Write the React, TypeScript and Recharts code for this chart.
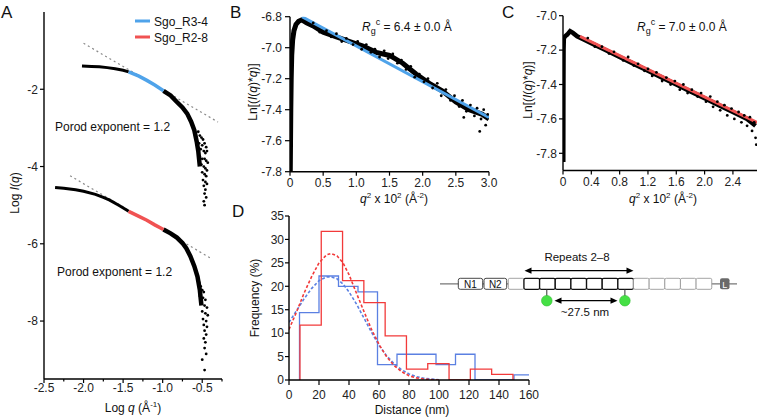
import React from "react";
import { ComposedChart, Line, Scatter, XAxis, YAxis } from "recharts";

const FONT = "'Liberation Sans', Arial, Helvetica, sans-serif";
const FIT_BLUE = "#4FA3EA";
const FIT_RED = "#F05252";
const H_BLUE = "#5B80E2";
const H_RED = "#F23A3A";
const GUIDE = "#8a8a8a";

const pts = (a: number[][]) => a.map(([x, y]) => ({ x, y }));

// ---- A: log-log curves ----
const aUpperLow = pts([[-2.02, -1.4], [-1.9, -1.41], [-1.8, -1.42], [-1.7, -1.44], [-1.6, -1.47], [-1.5, -1.51], [-1.43, -1.55]]);
const aUpperFit = pts([[-1.43, -1.55], [-1.3, -1.66], [-1.2, -1.77], [-1.1, -1.89], [-0.99, -2.04]]);
const aUpperHigh = pts([[-0.99, -2.04], [-0.9, -2.16], [-0.82, -2.33], [-0.75, -2.47], [-0.69, -2.63], [-0.64, -2.84], [-0.6, -3.06], [-0.57, -3.35], [-0.55, -3.6], [-0.53, -4.0]]);
const aUpperTail = pts([
  [-0.55, -3.1], [-0.53, -3.2], [-0.51, -3.25], [-0.49, -3.3], [-0.54, -3.4], [-0.5, -3.45], [-0.47, -3.4], [-0.45, -3.5],
  [-0.52, -3.55], [-0.48, -3.6], [-0.46, -3.65], [-0.44, -3.6], [-0.53, -3.75], [-0.5, -3.8], [-0.47, -3.8], [-0.45, -3.85],
  [-0.43, -3.9], [-0.51, -3.95], [-0.48, -4.0], [-0.46, -4.05], [-0.44, -4.1], [-0.5, -4.15], [-0.47, -4.2], [-0.45, -4.25],
  [-0.49, -4.35], [-0.46, -4.4], [-0.44, -4.45], [-0.48, -4.5], [-0.46, -4.6], [-0.47, -4.7], [-0.45, -4.8], [-0.48, -4.9], [-0.47, -5.0],
]);
const aLowerLow = pts([[-2.36, -4.54], [-2.25, -4.56], [-2.1, -4.6], [-2.0, -4.64], [-1.85, -4.72], [-1.75, -4.8], [-1.67, -4.87], [-1.55, -5.01], [-1.43, -5.16]]);
const aLowerFit = pts([[-1.43, -5.16], [-1.3, -5.29], [-1.2, -5.39], [-1.1, -5.51], [-0.99, -5.63]]);
const aLowerHigh = pts([[-0.99, -5.63], [-0.9, -5.73], [-0.82, -5.84], [-0.75, -5.98], [-0.7, -6.12], [-0.65, -6.32], [-0.6, -6.58], [-0.56, -6.85], [-0.53, -7.2], [-0.51, -7.6]]);
const aLowerTail = pts([
  [-0.54, -7.0], [-0.52, -7.1], [-0.5, -7.2], [-0.48, -7.25], [-0.53, -7.35], [-0.49, -7.4], [-0.46, -7.45], [-0.51, -7.55],
  [-0.47, -7.6], [-0.44, -7.65], [-0.5, -7.75], [-0.46, -7.8], [-0.43, -7.85], [-0.49, -7.95], [-0.45, -8.0], [-0.48, -8.1],
  [-0.44, -8.15], [-0.47, -8.25], [-0.45, -8.35], [-0.48, -8.45], [-0.46, -8.55], [-0.47, -8.7], [-0.45, -8.85], [-0.5, -9.0], [-0.47, -9.27],
]);
const aGuideUpper = pts([[-2.0, -0.81], [-0.3, -2.85]]);
const aGuideLower = pts([[-2.17, -4.24], [-0.37, -6.4]]);
const aXTicks = [-2.5, -2.25, -2.0, -1.75, -1.5, -1.25, -1.0, -0.75, -0.5, -0.25];
const aYTicks = [-8, -6, -4, -2];

// ---- B: Sgo_R3-4 cross-section Guinier ----
const bTrace = pts([
  [0.004, -7.8], [0.008, -7.6], [0.012, -7.4], [0.018, -7.2], [0.026, -7.05], [0.04, -6.95], [0.06, -6.89], [0.09, -6.85],
  [0.13, -6.83], [0.18, -6.82], [0.25, -6.84], [0.35, -6.86], [0.5, -6.9], [0.7, -6.93], [0.9, -6.96], [1.1, -6.99],
  [1.3, -7.03], [1.5, -7.05], [1.7, -7.1], [1.9, -7.17], [2.1, -7.23], [2.3, -7.28], [2.5, -7.35], [2.7, -7.4], [2.9, -7.43], [3.0, -7.46],
]);
const bScatter = pts([
  [0.35, -6.84], [0.45, -6.9], [0.55, -6.89], [0.62, -6.93], [0.7, -6.91], [0.78, -6.96], [0.85, -6.94], [0.95, -6.98],
  [1.02, -6.96], [1.08, -7.01], [1.15, -6.98], [1.22, -7.03], [1.28, -7.01], [1.35, -7.06], [1.42, -7.02], [1.48, -7.07],
  [1.55, -7.04], [1.62, -7.1], [1.68, -7.08], [1.75, -7.14], [1.82, -7.12], [1.88, -7.19], [1.95, -7.17], [2.02, -7.22],
  [2.08, -7.2], [2.15, -7.26], [2.22, -7.23], [2.28, -7.31], [2.35, -7.27], [2.42, -7.34], [2.48, -7.31], [2.55, -7.38],
  [2.6, -7.34], [2.66, -7.41], [2.72, -7.37], [2.78, -7.44], [2.82, -7.39], [2.88, -7.46], [2.92, -7.4], [2.95, -7.5],
  [2.98, -7.43], [2.86, -7.54], [2.62, -7.45],
]);
const bFit = pts([[0.18, -6.8], [3.0, -7.45]]);
const bXTicks = [0, 0.5, 1.0, 1.5, 2.0, 2.5, 3.0];
const bYTicks = [-7.8, -7.6, -7.4, -7.2, -7.0, -6.8];

// ---- C: Sgo_R2-8 cross-section Guinier ----
const cTrace = pts([
  [0.004, -7.85], [0.005, -7.6], [0.006, -7.4], [0.008, -7.2], [0.012, -7.13], [0.03, -7.12], [0.06, -7.11], [0.1, -7.09],
  [0.14, -7.1], [0.2, -7.12], [0.3, -7.14], [0.4, -7.16], [0.6, -7.2], [0.8, -7.24], [1.0, -7.28], [1.2, -7.32],
  [1.4, -7.36], [1.6, -7.4], [1.8, -7.44], [2.0, -7.48], [2.2, -7.52], [2.4, -7.56], [2.6, -7.6], [2.72, -7.64],
]);
const cScatter = pts([
  [0.35, -7.13], [0.45, -7.18], [0.55, -7.18], [0.65, -7.22], [0.72, -7.21], [0.85, -7.26], [0.92, -7.24], [1.0, -7.29],
  [1.06, -7.28], [1.15, -7.32], [1.2, -7.31], [1.26, -7.35], [1.32, -7.33], [1.4, -7.38], [1.46, -7.36], [1.52, -7.4],
  [1.58, -7.38], [1.65, -7.43], [1.7, -7.4], [1.76, -7.45], [1.82, -7.43], [1.9, -7.47], [1.95, -7.45], [2.02, -7.5],
  [2.08, -7.47], [2.12, -7.53], [2.18, -7.5], [2.22, -7.55], [2.28, -7.52], [2.32, -7.58], [2.38, -7.54], [2.42, -7.6],
  [2.48, -7.56], [2.52, -7.62], [2.56, -7.58], [2.6, -7.64], [2.64, -7.59], [2.67, -7.67], [2.7, -7.62], [2.72, -7.71], [2.73, -7.75],
]);
const cFit = pts([[0.24, -7.12], [2.74, -7.62]]);
const cXTicks = [0, 0.4, 0.8, 1.2, 1.6, 2.0, 2.4];
const cYTicks = [-7.8, -7.6, -7.4, -7.2, -7.0];

// ---- D: distance histograms (bin start, frequency) ----
const dBlueHist = pts([[7, 0], [7, 14.4], [20, 22.2], [33, 20.0], [46, 18.8], [59, 3.3], [72, 5.5], [85, 5.5], [98, 3.3], [111, 5.5], [124, 0], [150, 1.1], [160, 1.1]]);
const dRedHist = pts([[7.3, 0], [7.3, 11.7], [21.5, 31.7], [35.7, 21.2], [49.9, 16.5], [64.1, 9.4], [78.3, 2.3], [92.5, 3.5], [106.7, 0], [120.9, 2.3], [135.1, 1.2], [149.3, 0]]);
const dBlueFit = pts([
  [0, 12.3], [5, 14.8], [10, 17.3], [15, 19.5], [20, 21.2], [25, 22.0], [28, 22.0], [32, 21.6], [36, 20.5], [40, 18.8],
  [45, 16.2], [50, 13.2], [55, 10.2], [60, 7.4], [65, 5.2], [70, 3.5], [75, 2.2], [80, 1.3], [85, 0.7], [90, 0.35], [100, 0.05],
]);
const dRedFit = pts([
  [0, 10.8], [5, 14.5], [10, 18.5], [15, 22.0], [20, 25.0], [25, 26.7], [28, 27.0], [32, 26.5], [36, 25.0], [40, 22.5],
  [45, 18.5], [50, 14.6], [55, 10.8], [60, 7.6], [65, 5.0], [70, 3.1], [75, 1.8], [80, 0.9], [85, 0.45], [90, 0.2], [100, 0],
]);
const dXTicks = [0, 20, 40, 60, 80, 100, 120, 140, 160];
const dYTicks = [0, 5, 10, 15, 20, 25, 30, 35];

// schematic: repeat index -> highlighted
const repeats = [1, 2, 3, 4, 5, 6, 7, 8, 9, 10, 11, 12, 13];

const axisLine = { stroke: "#000", strokeWidth: 1.4 };
const tickLine = { stroke: "#000", strokeWidth: 1.2 };
const tickStyle = { fill: "#222", fontSize: 12, fontFamily: FONT };
const fmt1 = (v: number) => (v === 0 ? "0" : v.toFixed(1));

const Dot = (p: any) => <circle cx={p.cx} cy={p.cy} r={1.4} fill="#000" />;

const AXTick = (p: any) => {
  const v = p.payload.value as number;
  const major = Math.abs(v * 2 - Math.round(v * 2)) < 1e-6;
  return (
    <g>
      <line x1={p.x} x2={p.x} y1={p.y} y2={p.y + (major ? 4 : 2.5)} stroke="#000" strokeWidth={1.2} />
      {major && (
        <text x={p.x} y={p.y + 12.5} textAnchor="middle" fill="#222" fontSize={12} fontFamily={FONT}>
          {v.toFixed(1)}
        </text>
      )}
    </g>
  );
};

const line = (data: any[], stroke: string, width: number, dash?: string) => (
  <Line
    data={data}
    dataKey="y"
    type="linear"
    stroke={stroke}
    strokeWidth={width}
    strokeDasharray={dash}
    dot={false}
    activeDot={false}
    isAnimationActive={false}
  />
);

const stepLine = (data: any[], stroke: string) => (
  <Line data={data} dataKey="y" type="stepAfter" stroke={stroke} strokeWidth={1.3} dot={false} activeDot={false} isAnimationActive={false} />
);

const scatter = (data: any[]) => <Scatter data={data} dataKey="y" shape={Dot} isAnimationActive={false} />;

function PanelA() {
  return (
    <ComposedChart width={235} height={417} margin={{ top: 12, right: 13, bottom: 8, left: 10 }}>
      <XAxis type="number" dataKey="x" domain={[-2.5, -0.25]} ticks={aXTicks} allowDataOverflow height={30}
        axisLine={axisLine} tickLine={false} tickSize={0} tickMargin={0} tick={<AXTick />} interval={0} />
      <YAxis type="number" dataKey="y" domain={[-9.5, 0]} ticks={aYTicks} allowDataOverflow width={34}
        axisLine={axisLine} tickLine={tickLine} tickSize={4} tickMargin={2} tick={tickStyle} />
      {line(aGuideUpper, GUIDE, 1.2, "2 3")}
      {line(aGuideLower, GUIDE, 1.2, "2 3")}
      {line(aUpperLow, "#000", 3)}
      {line(aUpperHigh, "#000", 4.5)}
      {scatter(aUpperTail)}
      {line(aUpperFit, FIT_BLUE, 3.5)}
      {line(aLowerLow, "#000", 3)}
      {line(aLowerHigh, "#000", 4.5)}
      {scatter(aLowerTail)}
      {line(aLowerFit, FIT_RED, 3.5)}
    </ComposedChart>
  );
}

function PanelB() {
  return (
    <ComposedChart width={258} height={210} margin={{ top: 16.7, right: 19, bottom: 8.3, left: 6 }}>
      <XAxis type="number" dataKey="x" domain={[0, 3]} ticks={bXTicks} allowDataOverflow height={30} interval={0}
        axisLine={axisLine} tickLine={tickLine} tickSize={4} tickMargin={2.5} tick={tickStyle} tickFormatter={fmt1} />
      <YAxis type="number" dataKey="y" domain={[-7.8, -6.8]} ticks={bYTicks} allowDataOverflow width={34} interval={0}
        axisLine={axisLine} tickLine={tickLine} tickSize={5} tickMargin={3} tick={tickStyle} tickFormatter={fmt1} />
      {line(bTrace, "#000", 5)}
      {scatter(bScatter)}
      {line(bFit, FIT_BLUE, 3)}
    </ComposedChart>
  );
}

function PanelC() {
  return (
    <ComposedChart width={234} height={210} margin={{ top: 15.7, right: 0, bottom: 9.5, left: 6 }}>
      <XAxis type="number" dataKey="x" domain={[0, 2.74]} ticks={cXTicks} allowDataOverflow height={30} interval={0}
        axisLine={axisLine} tickLine={tickLine} tickSize={4} tickMargin={2.5} tick={tickStyle} tickFormatter={fmt1} />
      <YAxis type="number" dataKey="y" domain={[-7.9, -7.0]} ticks={cYTicks} allowDataOverflow width={34} interval={0}
        axisLine={axisLine} tickLine={tickLine} tickSize={4} tickMargin={2} tick={tickStyle} tickFormatter={fmt1} />
      {line(cTrace, "#000", 4.5)}
      {scatter(cScatter)}
      {line(cFit, FIT_RED, 3)}
    </ComposedChart>
  );
}

function PanelD() {
  return (
    <ComposedChart width={290} height={217} margin={{ top: 16, right: 11, bottom: 7, left: 5 }}>
      <XAxis type="number" dataKey="x" domain={[0, 160]} ticks={dXTicks} allowDataOverflow height={30} interval={0}
        axisLine={axisLine} tickLine={tickLine} tickSize={5} tickMargin={5} tick={tickStyle} />
      <YAxis type="number" dataKey="y" domain={[0, 35]} ticks={dYTicks} allowDataOverflow width={34} interval={0}
        axisLine={axisLine} tickLine={tickLine} tickSize={4} tickMargin={1} tick={tickStyle} />
      {stepLine(dBlueHist, H_BLUE)}
      {stepLine(dRedHist, H_RED)}
      {line(dBlueFit, H_BLUE, 1.6, "3 2")}
      {line(dRedFit, H_RED, 1.6, "3 2")}
    </ComposedChart>
  );
}

function QTitle({ x, y }: { x: number; y: number }) {
  return (
    <text x={x} y={y} textAnchor="middle" fontSize={12}>
      <tspan fontStyle="italic">q</tspan>
      <tspan dy={-5} fontSize={8}>2</tspan>
      <tspan dy={5}> x 10</tspan>
      <tspan dy={-5} fontSize={8}>2</tspan>
      <tspan dy={5}> (Å</tspan>
      <tspan dy={-5} fontSize={8}>-2</tspan>
      <tspan dy={5}>)</tspan>
    </text>
  );
}

function LnTitle({ x, y }: { x: number; y: number }) {
  return (
    <text transform={`translate(${x},${y}) rotate(-90)`} textAnchor="middle" dominantBaseline="central" fontSize={12}>
      Ln[(<tspan fontStyle="italic">I</tspan>(<tspan fontStyle="italic">q</tspan>)*<tspan fontStyle="italic">q</tspan>)]
    </text>
  );
}

function RgText({ x, y, value }: { x: number; y: number; value: string }) {
  return (
    <text x={x} y={y} fontSize={12}>
      <tspan fontStyle="italic">R</tspan>
      <tspan dy={3} fontSize={9}>g</tspan>
      <tspan dy={-9} fontSize={9}>c</tspan>
      <tspan dy={6}>{` = ${value} ± 0.0 Å`}</tspan>
    </text>
  );
}

function Overlay() {
  const boxW = 15.65;
  return (
    <svg width={757} height={417} style={{ position: "absolute", left: 0, top: 0, pointerEvents: "none" }}
      fontFamily={FONT} fill="#111">
      {/* panel letters */}
      <text x={1} y={18} fontSize={17}>A</text>
      <text x={230} y={18} fontSize={17}>B</text>
      <text x={502} y={18} fontSize={17}>C</text>
      <text x={232} y={217} fontSize={17}>D</text>

      {/* A legend and annotations */}
      <line x1={135} x2={150} y1={21} y2={21} stroke={FIT_BLUE} strokeWidth={3} />
      <text x={154} y={25.5} fontSize={12}>Sgo_R3-4</text>
      <line x1={135} x2={150} y1={37} y2={37} stroke={FIT_RED} strokeWidth={3} />
      <text x={154} y={41.5} fontSize={12}>Sgo_R2-8</text>
      <text x={55} y={130.5} fontSize={12}>Porod exponent = 1.2</text>
      <text x={57} y={276} fontSize={12}>Porod exponent = 1.2</text>
      <text transform="translate(15,193) rotate(-90)" textAnchor="middle" dominantBaseline="central" fontSize={12}>
        Log <tspan fontStyle="italic">I</tspan>(<tspan fontStyle="italic">q</tspan>)
      </text>
      <text x={133} y={412} textAnchor="middle" fontSize={12}>
        Log <tspan fontStyle="italic">q</tspan> (Å<tspan dy={-5} fontSize={8}>-1</tspan><tspan dy={5}>)</tspan>
      </text>

      {/* B / C titles */}
      <LnTitle x={253} y={92} />
      <QTitle x={394} y={203} />
      <RgText x={362} y={31} value="6.4" />
      <LnTitle x={528} y={90} />
      <QTitle x={663} y={203} />
      <RgText x={637} y={31} value="7.0" />

      {/* D titles */}
      <text transform="translate(255,298) rotate(-90)" textAnchor="middle" dominantBaseline="central" fontSize={12}>
        Frequency (%)
      </text>
      <text x={412} y={414} textAnchor="middle" fontSize={12}>Distance (nm)</text>

      {/* construct schematic */}
      <line x1={440} x2={737} y1={283.8} y2={283.8} stroke="#777" strokeWidth={1.2} />
      <rect x={458.3} y={278.3} width={24.4} height={11} rx={2} fill="#fff" stroke="#333" strokeWidth={0.9} />
      <text x={470.5} y={287.8} textAnchor="middle" fontSize={10}>N1</text>
      <rect x={484} y={278.3} width={22.7} height={11} rx={2} fill="#fff" stroke="#333" strokeWidth={0.9} />
      <text x={495.3} y={287.8} textAnchor="middle" fontSize={10}>N2</text>
      {repeats.map((r, i) => {
        const hi = r >= 2 && r <= 8;
        return (
          <rect key={r} x={508.3 + i * boxW} y={278.3} width={boxW} height={11} rx={1.5} fill="#fff"
            stroke={hi ? "#111" : "#9a9a9a"} strokeWidth={hi ? 1.3 : 0.9} />
        );
      })}
      <rect x={720} y={278.3} width={9.5} height={11} rx={2} fill="#6a6a6a" />
      <text x={724.8} y={287.5} textAnchor="middle" fontSize={9} fill="#fff">L</text>

      <line x1={529} x2={629} y1={270.7} y2={270.7} stroke="#000" strokeWidth={1.3} />
      <polygon points="524.5,270.7 531.5,267.6 531.5,273.8" fill="#000" />
      <polygon points="633.5,270.7 626.5,267.6 626.5,273.8" fill="#000" />
      <text x={577} y={261} textAnchor="middle" fontSize={11.5}>Repeats 2–8</text>

      <line x1={546.8} x2={546.8} y1={289.3} y2={296} stroke="#333" strokeWidth={1} />
      <line x1={624.9} x2={624.9} y1={289.3} y2={296} stroke="#333" strokeWidth={1} />
      <circle cx={546.8} cy={300.7} r={5.3} fill="#45E045" stroke="#30c030" strokeWidth={0.6} />
      <circle cx={624.9} cy={300.7} r={5.3} fill="#45E045" stroke="#30c030" strokeWidth={0.6} />
      <line x1={559} x2={613} y1={300.7} y2={300.7} stroke="#000" strokeWidth={1.3} />
      <polygon points="554.5,300.7 561.5,297.6 561.5,303.8" fill="#000" />
      <polygon points="617.5,300.7 610.5,297.6 610.5,303.8" fill="#000" />
      <text x={585} y={315.5} textAnchor="middle" fontSize={11.5}>~27.5 nm</text>
    </svg>
  );
}

export default function App() {
  return (
    <div style={{ position: "absolute", left: 0, top: 0, width: 757, height: 417, background: "#fff", overflow: "hidden", fontFamily: FONT }}>
      <div style={{ position: "absolute", left: 0, top: 0 }}><PanelA /></div>
      <div style={{ position: "absolute", left: 250, top: 0 }}><PanelB /></div>
      <div style={{ position: "absolute", left: 523, top: 0 }}><PanelC /></div>
      <div style={{ position: "absolute", left: 250, top: 200 }}><PanelD /></div>
      <Overlay />
    </div>
  );
}
